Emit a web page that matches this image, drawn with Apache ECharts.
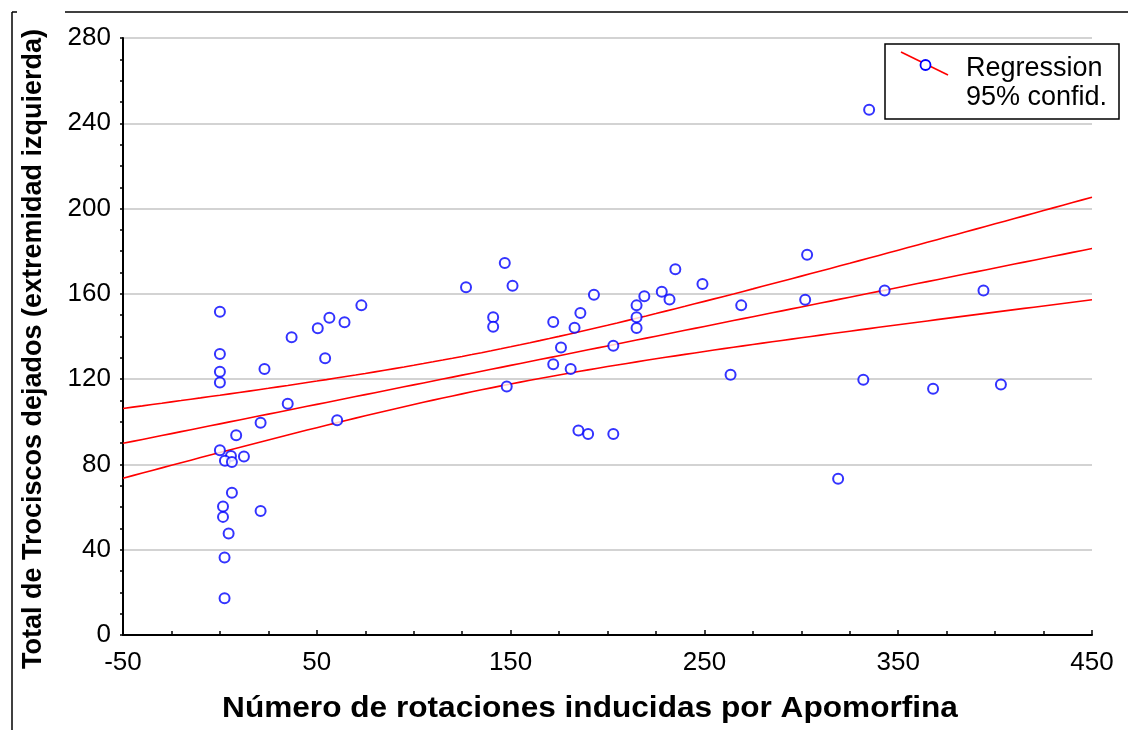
<!DOCTYPE html>
<html>
<head>
<meta charset="utf-8">
<script src="https://cdn.jsdelivr.net/npm/echarts@6/dist/echarts.min.js"></script>
<style>
  html, body { margin: 0; padding: 0; background: #ffffff; }
  #chart { width: 1128px; height: 730px; }
</style>
</head>
<body>
<div id="chart"></div>
<script>
// Apomorphine-induced rotations vs. total pellets left (left limb)
const rotaciones = [
  0, 0, 0, 0, 23, 37, 50.5, 56.5, 64.3, 73, 54.3, 35, 21, 60.5,
  8.4, 0, 5.7, 12.4, 2.6, 6.2, 6.2, 1.6, 1.6, 21, 4.5, 2.4, 2.4,
  127, 147, 151, 141, 141, 148, 172, 172, 176, 183, 186, 181, 193,
  185, 190, 203, 203, 215, 215, 215, 219, 228, 232, 235, 249, 269, 263.5,
  335, 303, 302, 343, 394, 332, 368, 403, 319
];
const trociscos = [
  151.6, 131.8, 123.5, 118.4, 124.8, 139.6, 143.9, 148.8, 146.7, 154.6, 129.8, 108.5, 99.5, 100.7,
  93.7, 86.7, 84, 83.7, 81.7, 81.1, 66.7, 60.3, 55.4, 58.2, 47.6, 36.4, 17.2,
  163.1, 174.5, 163.8, 149, 144.6, 116.5, 146.8, 127, 134.8, 144.1, 151, 124.8, 159.6,
  95.9, 94.3, 94.3, 135.7, 154.6, 149, 144, 158.9, 161, 157.4, 171.5, 164.6, 154.6, 122.1,
  246.3, 178.3, 157.2, 161.6, 161.6, 119.7, 115.5, 117.5, 73.3
];
const xTicks = [-50, 50, 150, 250, 350, 450];
const yTicks = [0, 40, 80, 120, 160, 200, 240, 280];
const xTitle = 'Número de rotaciones inducidas por Apomorfina';
const yTitle = 'Total de Trociscos dejados (extremidad izquierda)';
const legendLines = ['Regression', '95% confid.'];

// Least-squares fit with 95% confidence band for the mean
const n = rotaciones.length;
const mx = rotaciones.reduce((s, v) => s + v, 0) / n;
const my = trociscos.reduce((s, v) => s + v, 0) / n;
let sxx = 0, sxy = 0;
for (let i = 0; i < n; i++) {
  sxx += (rotaciones[i] - mx) ** 2;
  sxy += (rotaciones[i] - mx) * (trociscos[i] - my);
}
const slope = sxy / sxx;
const icpt = my - slope * mx;
let sse = 0;
for (let i = 0; i < n; i++) sse += (trociscos[i] - (icpt + slope * rotaciones[i])) ** 2;
const sRes = Math.sqrt(sse / (n - 2));
const tCrit = 1.9996; // t(0.975, 61 df)

const fitLine = [], upper = [], lower = [];
for (let x = xTicks[0]; x <= xTicks[xTicks.length - 1]; x += 5) {
  const yh = icpt + slope * x;
  const h = tCrit * sRes * Math.sqrt(1 / n + (x - mx) ** 2 / sxx);
  fitLine.push([x, yh]);
  upper.push([x, yh + h]);
  lower.push([x, yh - h]);
}

const points = rotaciones.map((x, i) => [x, trociscos[i]]);
const FONT = '"Liberation Sans", Arial, sans-serif';
const RED = '#ff0000';
const BLUE = '#0000ff';

const lineSeries = (data) => ({
  type: 'line', data, showSymbol: false, symbol: 'none', smooth: false,
  lineStyle: { color: RED, width: 1.6 }, silent: true, z: 2
});

const chart = echarts.init(document.getElementById('chart'), null, { renderer: 'canvas' });
chart.setOption({
  animation: false,
  backgroundColor: '#ffffff',
  grid: { left: 123, right: 36, top: 38, bottom: 95, containLabel: false },
  xAxis: {
    type: 'value', min: xTicks[0], max: xTicks[xTicks.length - 1], interval: 100,
    axisLine: { show: true, onZero: false, lineStyle: { color: '#000', width: 2 } },
    axisTick: { show: true, inside: true, length: 5, lineStyle: { color: '#000', width: 1.5 } },
    minorTick: { show: true, splitNumber: 4, length: 4, lineStyle: { color: '#000', width: 1.5 } },
    axisLabel: { fontFamily: FONT, fontSize: 26, color: '#000', margin: 15 },
    splitLine: { show: false }
  },
  yAxis: {
    type: 'value', min: yTicks[0], max: yTicks[yTicks.length - 1], interval: 40,
    axisLine: { show: true, onZero: false, lineStyle: { color: '#000', width: 2 } },
    axisTick: { show: true, inside: false, length: 3, lineStyle: { color: '#000', width: 1.5 } },
    minorTick: { show: true, splitNumber: 4, length: 3, lineStyle: { color: '#000', width: 1.5 } },
    axisLabel: { fontFamily: FONT, fontSize: 26, color: '#000', margin: 12 },
    splitLine: { show: true, lineStyle: { color: '#c4c4c4', width: 1.5 } }
  },
  series: [
    lineSeries(upper),
    lineSeries(fitLine),
    lineSeries(lower),
    {
      type: 'scatter', data: points, symbol: 'emptyCircle', symbolSize: 10,
      itemStyle: { color: BLUE, borderColor: BLUE, borderWidth: 1.8 }, z: 3
    }
  ],
  graphic: [
    // outer frame fragments
    { type: 'line', shape: { x1: 12, y1: 12, x2: 17, y2: 12 }, style: { stroke: '#000', lineWidth: 1.5 } },
    { type: 'line', shape: { x1: 65, y1: 12, x2: 1128, y2: 12 }, style: { stroke: '#000', lineWidth: 1.5 } },
    { type: 'line', shape: { x1: 12, y1: 12, x2: 12, y2: 730 }, style: { stroke: '#000', lineWidth: 1.5 } },
    // axis titles
    { type: 'text', x: 590, y: 709, scaleX: 1.09, z: 5,
      style: { text: xTitle, font: 'bold 29px ' + FONT, fill: '#000', align: 'center', verticalAlign: 'middle' } },
    { type: 'text', x: 34, y: 349, rotation: Math.PI / 2, z: 5,
      style: { text: yTitle, font: 'bold 27px ' + FONT, fill: '#000', align: 'center', verticalAlign: 'middle' } },
    // legend box
    { type: 'rect', shape: { x: 885, y: 44, width: 234, height: 75 },
      style: { fill: '#fff', stroke: '#000', lineWidth: 1.5 }, z: 10 },
    { type: 'line', shape: { x1: 901, y1: 52, x2: 948, y2: 75 },
      style: { stroke: RED, lineWidth: 1.6 }, z: 11 },
    { type: 'circle', shape: { cx: 925.5, cy: 65, r: 5 },
      style: { fill: '#fff', stroke: BLUE, lineWidth: 1.8 }, z: 12 },
    { type: 'text', x: 966, y: 69, z: 12,
      style: { text: legendLines[0], font: '27px ' + FONT, fill: '#000', verticalAlign: 'middle' } },
    { type: 'text', x: 966, y: 97.5, z: 12,
      style: { text: legendLines[1], font: '27px ' + FONT, fill: '#000', verticalAlign: 'middle' } }
  ]
});
</script>
</body>
</html>
